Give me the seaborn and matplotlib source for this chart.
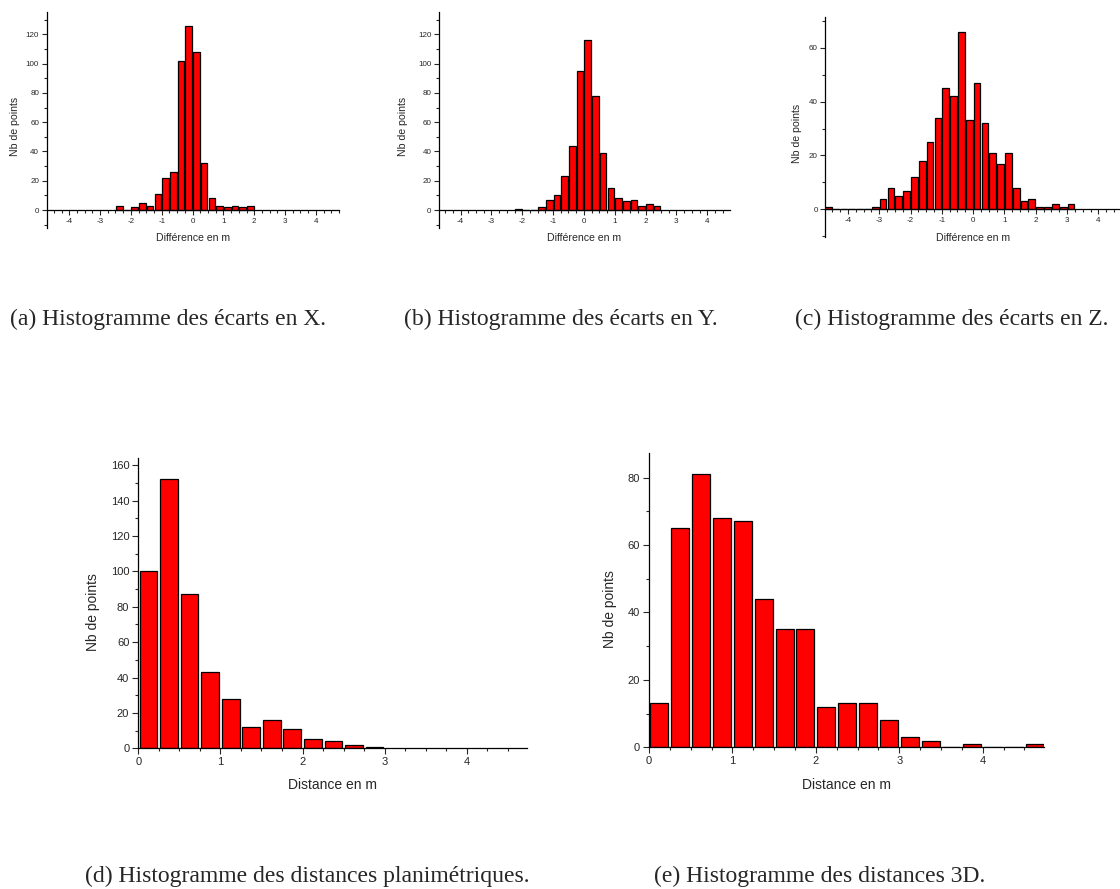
import numpy as np
import matplotlib.pyplot as plt
import seaborn as sns
from matplotlib.ticker import MultipleLocator

sns.set_style('ticks')
plt.rcParams['font.family'] = ['Liberation Sans', 'DejaVu Sans']
plt.rcParams['axes.unicode_minus'] = False

# bin centres (0.25 m bins) and counts
x_centres = [-2.375, -2.125, -1.875, -1.625, -1.375, -1.125, -0.875, -0.625, -0.375,
             -0.125, 0.125, 0.375, 0.625, 0.875, 1.125, 1.375, 1.625, 1.875]
x_counts = [3, 0, 2, 5, 3, 11, 22, 26, 102, 126, 108, 32, 8, 3, 2, 3, 2, 3]

y_centres = [-2.125, -1.875, -1.625, -1.375, -1.125, -0.875, -0.625, -0.375, -0.125,
             0.125, 0.375, 0.625, 0.875, 1.125, 1.375, 1.625, 1.875, 2.125, 2.375]
y_counts = [1, 0, 0, 2, 7, 10, 23, 44, 95, 116, 78, 39, 15, 8, 6, 7, 3, 4, 3]

z_centres = [-4.625, -4.375, -4.125, -3.875, -3.625, -3.375, -3.125, -2.875, -2.625,
             -2.375, -2.125, -1.875, -1.625, -1.375, -1.125, -0.875, -0.625, -0.375,
             -0.125, 0.125, 0.375, 0.625, 0.875, 1.125, 1.375, 1.625, 1.875, 2.125,
             2.375, 2.625, 2.875, 3.125]
z_counts = [1, 0, 0, 0, 0, 0, 1, 4, 8, 5, 7, 12, 18, 25, 34, 45, 42, 66,
            33, 47, 32, 21, 17, 21, 8, 3, 4, 1, 1, 2, 1, 2]

plan_centres = [0.125, 0.375, 0.625, 0.875, 1.125, 1.375, 1.625, 1.875, 2.125,
                2.375, 2.625, 2.875]
plan_counts = [100, 152, 87, 43, 28, 12, 16, 11, 5, 4, 2, 1]

d3_centres = [0.125, 0.375, 0.625, 0.875, 1.125, 1.375, 1.625, 1.875, 2.125, 2.375,
              2.625, 2.875, 3.125, 3.375, 3.625, 3.875, 4.125, 4.375, 4.625]
d3_counts = [13, 65, 81, 68, 67, 44, 35, 35, 12, 13, 13, 8, 3, 2, 0, 1, 0, 0, 1]

captions = ['(a) Histogramme des écarts en X.', '(b) Histogramme des écarts en Y.',
            '(c) Histogramme des écarts en Z.',
            '(d) Histogramme des distances planimétriques.',
            '(e) Histogramme des distances 3D.']

fig = plt.figure(figsize=(11.2, 8.89), dpi=100)

panels = [
    # data, axes rect, xlim, ylim, small?, ylabel x, xlabel y
    (x_centres, x_counts, [0.0417, 0.7435, 0.261, 0.2433], (-4.73, 4.75), (-12.3, 135.5), True, -0.091, -0.023),
    (y_centres, y_counts, [0.392, 0.7435, 0.2598, 0.2433], (-4.70, 4.74), (-12.3, 135.5), True, -0.106, -0.023),
    (z_centres, z_counts, [0.7369, 0.733, 0.2631, 0.2481], (-4.72, 4.69), (-10.4, 71.5), True, -0.079, 0.018),
    (plan_centres, plan_counts, [0.1235, 0.1583, 0.3468, 0.3262], (0, 4.73), (0, 164), False, -0.099, -0.103),
    (d3_centres, d3_counts, [0.5795, 0.1594, 0.3527, 0.3307], (0, 4.735), (0, 87.2), False, -0.081, -0.104),
]

for centres, counts, rect, xlim, ylim, small, ylx, xly in panels:
    ax = fig.add_axes(rect)
    sns.histplot(x=centres, weights=counts, binwidth=0.25,
                 binrange=(centres[0] - 0.125, centres[-1] + 0.125),
                 shrink=0.86, color='#ff0000', edgecolor='black',
                 linewidth=0.9, alpha=1, ax=ax)
    ax.set_xlim(*xlim)
    ax.set_ylim(*ylim)
    sns.despine(ax=ax)
    if small:
        ax.spines['bottom'].set_position(('data', 0))
    for s in ['left', 'bottom']:
        ax.spines[s].set_linewidth(0.9)
        ax.spines[s].set_color('black')
    ax.xaxis.set_major_locator(MultipleLocator(1))
    ax.xaxis.set_minor_locator(MultipleLocator(0.25))
    ax.yaxis.set_major_locator(MultipleLocator(20))
    ax.yaxis.set_minor_locator(MultipleLocator(10))
    tfs = 5.8 if small else 8
    lfs = 7.6 if small else 10
    ml = 3.5 if small else 4.5
    ax.tick_params(which='major', direction='out', length=ml, width=0.8,
                   labelsize=tfs, pad=2)
    ax.tick_params(which='minor', direction='out', length=ml * 0.55, width=0.8)
    ax.set_xlabel('Différence en m' if small else 'Distance en m', fontsize=lfs)
    ax.set_ylabel('Nb de points', fontsize=lfs)
    ax.xaxis.set_label_coords(0.5, xly)
    ax.yaxis.set_label_coords(ylx, 0.47)

cap_pos = [(0.150, 0.634), (0.501, 0.634), (0.850, 0.634), (0.274, 0.008), (0.732, 0.008)]
for cap, (cx, cy) in zip(captions, cap_pos):
    fig.text(cx, cy, cap, ha='center', va='baseline', fontsize=17,
             family=['Liberation Serif', 'DejaVu Serif'])

fig.savefig('out.png', dpi=100)
